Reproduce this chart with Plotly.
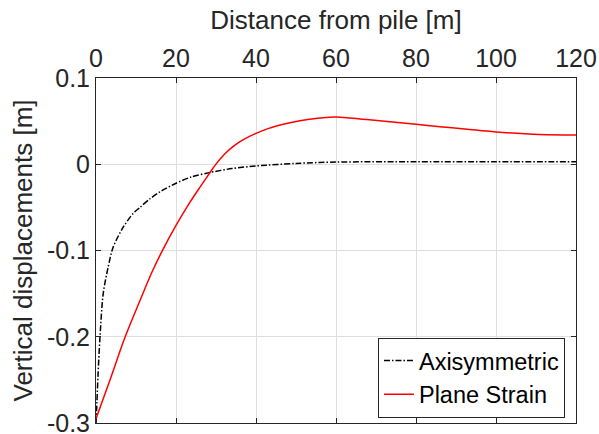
import plotly.graph_objects as go

# Axisymmetric (black dash-dot)
axi_x = [0, 0.15, 0.5, 1.0, 1.8, 3.0, 4.3, 6.8, 9.3, 11, 13.5, 16, 20, 24, 28.3, 34, 40, 50, 60, 80, 100, 120]
axi_y = [-0.3, -0.285, -0.245, -0.2, -0.15, -0.12, -0.096, -0.073, -0.057, -0.050, -0.040, -0.032,
         -0.022, -0.0145, -0.0097, -0.005, -0.002, 0.001, 0.0025, 0.003, 0.003, 0.003]

# Plane strain (red solid)
ps_x = [0, 3.5, 7.3, 11, 14, 16.5, 20, 23.5, 26, 28.3, 29.8, 32, 34, 36, 38, 40, 43, 46, 51, 56, 60,
        67.7, 80, 86, 100, 111, 120]
ps_y = [-0.295, -0.25, -0.2, -0.158, -0.125, -0.101, -0.071, -0.044, -0.0265, -0.011, -0.001, 0.011,
        0.0195, 0.0262, 0.0315, 0.0358, 0.0413, 0.0455, 0.0505, 0.0536, 0.0549,
        0.0518, 0.0464, 0.0435, 0.0375, 0.0345, 0.034]

x_ticks = [0, 20, 40, 60, 80, 100, 120]
y_ticks = [-0.3, -0.2, -0.1, 0, 0.1]
y_ticktext = ["-0.3", "-0.2", "-0.1", "0", "0.1"]

FONT = "Liberation Sans, Arial, Helvetica, sans-serif"
TXT = "#262626"

fig = go.Figure()
fig.add_trace(go.Scatter(x=axi_x, y=axi_y, mode="lines", name="Axisymmetric",
                         line=dict(color="black", width=1.5, dash="6px,2px,1.5px,2px",
                                   shape="spline", smoothing=0.8)))
fig.add_trace(go.Scatter(x=ps_x, y=ps_y, mode="lines", name="Plane Strain",
                         line=dict(color="#ff0000", width=1.5, shape="spline", smoothing=1.0)))

fig.update_layout(
    width=599, height=434,
    margin=dict(l=96, r=23, t=78, b=11),
    paper_bgcolor="white", plot_bgcolor="white",
    font=dict(family=FONT, size=25, color=TXT),
    showlegend=True,
    legend=dict(x=0.977, y=0.015, xanchor="right", yanchor="bottom",
                bgcolor="white", bordercolor=TXT, borderwidth=1,
                font=dict(family=FONT, size=23.5, color="black"),
                tracegroupgap=0, itemwidth=30),
)
fig.update_xaxes(
    side="top", range=[0, 120], tickvals=x_ticks, automargin=False,
    title=dict(text="Distance from pile [m]", font=dict(size=26, color=TXT), standoff=6),
    showgrid=True, gridcolor="#dedede", gridwidth=1,
    showline=True, linecolor=TXT, linewidth=1, mirror="ticks",
    ticks="inside", ticklen=5, tickcolor=TXT, tickwidth=1,
    zeroline=False, tickfont=dict(size=25, color=TXT), ticklabeloverflow="allow",
)
fig.update_yaxes(
    range=[-0.3, 0.1], tickvals=y_ticks, ticktext=y_ticktext, automargin=False,
    title=dict(text="Vertical displacements [m]", font=dict(size=26, color=TXT), standoff=6),
    showgrid=True, gridcolor="#dedede", gridwidth=1,
    showline=True, linecolor=TXT, linewidth=1, mirror="ticks",
    ticks="inside", ticklen=5, tickcolor=TXT, tickwidth=1,
    zeroline=False, tickfont=dict(size=25, color=TXT), ticklabeloverflow="allow",
)

fig.write_html("out.html")
